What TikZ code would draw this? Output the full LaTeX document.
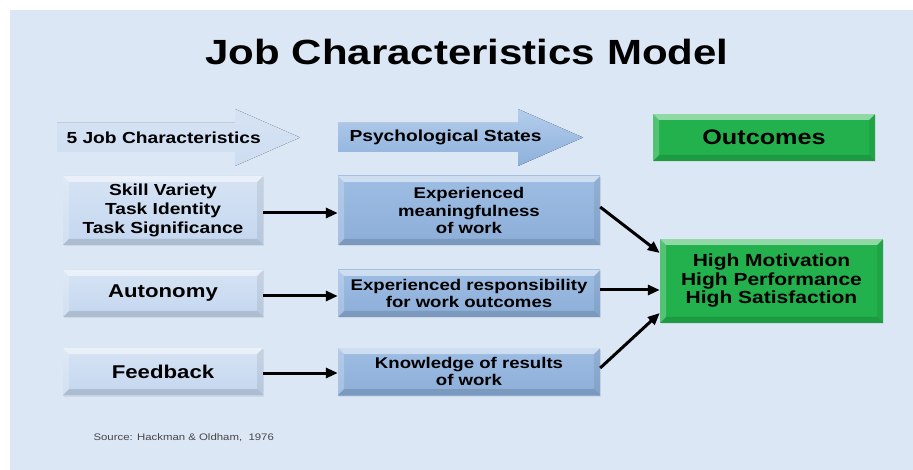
\documentclass[tikz,border=0pt]{standalone}
\usepackage{fontspec}
\setmainfont{Liberation Sans}[FakeStretch=1.2]
\usetikzlibrary{arrows.meta,shadows,calc}
\definecolor{bg}{RGB}{220,231,245}
\definecolor{lightbox}{RGB}{196,215,239}
\definecolor{lighttop}{RGB}{214,227,244}
\definecolor{midbox}{RGB}{140,174,216}
\definecolor{midtop}{RGB}{158,189,227}
\definecolor{greenbox}{RGB}{34,177,76}
\definecolor{pale}{RGB}{205,221,241}
\definecolor{paletop}{RGB}{214,227,244}
\definecolor{psytop}{RGB}{180,205,236}
\definecolor{psybot}{RGB}{141,176,219}
\definecolor{srcgray}{RGB}{70,70,70}
\tikzset{
  bevel/.style={path picture={
    \fill[white,opacity=.5] (path picture bounding box.north west) -- (path picture bounding box.north east)
      -- ([shift={(-6pt,-6pt)}]path picture bounding box.north east) -- ([shift={(6pt,-6pt)}]path picture bounding box.north west) -- cycle;
    \fill[white,opacity=.22] (path picture bounding box.north west) -- ([shift={(6pt,-6pt)}]path picture bounding box.north west)
      -- ([shift={(6pt,6pt)}]path picture bounding box.south west) -- (path picture bounding box.south west) -- cycle;
    \fill[black,opacity=.07] (path picture bounding box.north east) -- ([shift={(-6pt,-6pt)}]path picture bounding box.north east)
      -- ([shift={(-6pt,6pt)}]path picture bounding box.south east) -- (path picture bounding box.south east) -- cycle;
    \fill[black,opacity=.12] (path picture bounding box.south west) -- ([shift={(6pt,6pt)}]path picture bounding box.south west)
      -- ([shift={(-6pt,6pt)}]path picture bounding box.south east) -- (path picture bounding box.south east) -- cycle;
  }},
  basebox/.style={rectangle, inner sep=0pt, align=center, text=black, bevel,
    drop shadow={opacity=.15, shadow xshift=1pt, shadow yshift=-1.5pt}},
  leftbox/.style={basebox, top color=lighttop, bottom color=lightbox, minimum width=200pt},
  midboxs/.style={basebox, top color=midtop, bottom color=midbox, minimum width=262pt,
    font=\fontsize{15.5}{17.5}\selectfont\bfseries},
  greenb/.style={basebox, fill=greenbox},
  conn/.style={line width=3pt, -{Triangle[length=12pt,width=10pt]}},
}
\begin{document}
\begin{tikzpicture}[x=1pt,y=-1pt]
\useasboundingbox (0,0) rectangle (913,470);
\fill[white] (0,0) rectangle (913,470);
\fill[bg] (10,10) rectangle (913,470);

\node (title) at (467,52) {\fontsize{35}{40}\selectfont\bfseries Job Characteristics Model};

% header arrows
\fill[top color=paletop, bottom color=pale] (57,123) -- (235,123) -- (235,109) -- (300,137.5) -- (235,166) -- (235,152) -- (57,152) -- cycle;
\node[anchor=west, font=\fontsize{16}{18}\selectfont\bfseries] (jc) at (63,137.5) {5 Job Characteristics};
\fill[top color=psytop, bottom color=psybot] (338,123) -- (518,123) -- (518,109) -- (583,137.5) -- (518,166) -- (518,152) -- (338,152) -- cycle;
\node[anchor=west, font=\fontsize{16}{18}\selectfont\bfseries] (ps) at (346,137.5) {Psychological States};

\node[greenb, minimum width=222pt, minimum height=47pt, font=\fontsize{21}{24}\selectfont\bfseries] (out) at (764,137.5) {Outcomes};

% left column
\node[leftbox, minimum height=69pt, font=\fontsize{16}{19}\selectfont\bfseries] (skill) at (163,210.5) {Skill Variety\\Task Identity\\Task Significance};
\node[leftbox, minimum height=47pt, font=\fontsize{18.5}{21}\selectfont\bfseries] (auto) at (163,293.5) {Autonomy};
\node[leftbox, minimum height=47pt, font=\fontsize{18.5}{21}\selectfont\bfseries] (feed) at (163,371.5) {Feedback};

% middle column
\node[midboxs, minimum height=69pt] (mean) at (469,210.5) {Experienced\\meaningfulness\\of work};
\node[midboxs, minimum height=47pt] (resp) at (469,293.5) {Experienced responsibility\\for work outcomes};
\node[midboxs, minimum height=47pt] (know) at (469,371.5) {Knowledge of results\\of work};

% outcome
\node[greenb, minimum width=223pt, minimum height=84pt, font=\fontsize{17.5}{18.5}\selectfont\bfseries] (high) at (771.5,281) {High Motivation\\High Performance\\High Satisfaction};

% connectors
\draw[conn] ([yshift=-2.5pt]skill.east) -- ([yshift=-2.5pt]mean.west);
\draw[conn] ([yshift=-2.5pt]auto.east) -- ([yshift=-2.5pt]resp.west);
\draw[conn] ([yshift=-1.5pt]feed.east) -- ([yshift=-1.5pt]know.west);
\draw[conn] ([yshift=3.5pt]mean.east) -- ([yshift=28pt]high.west);
\draw[conn] ([yshift=3.5pt]resp.east) -- ([yshift=3.5pt]resp.east -| high.west);
\draw[conn] ([yshift=3.5pt]know.east) -- ([yshift=-32pt]high.west);

\node[anchor=west, text=srcgray, font=\fontsize{9.5}{11}\selectfont] (src) at (90,438) {Source: Hackman \& Oldham,\ \ 1976};
\end{tikzpicture}
\end{document}
